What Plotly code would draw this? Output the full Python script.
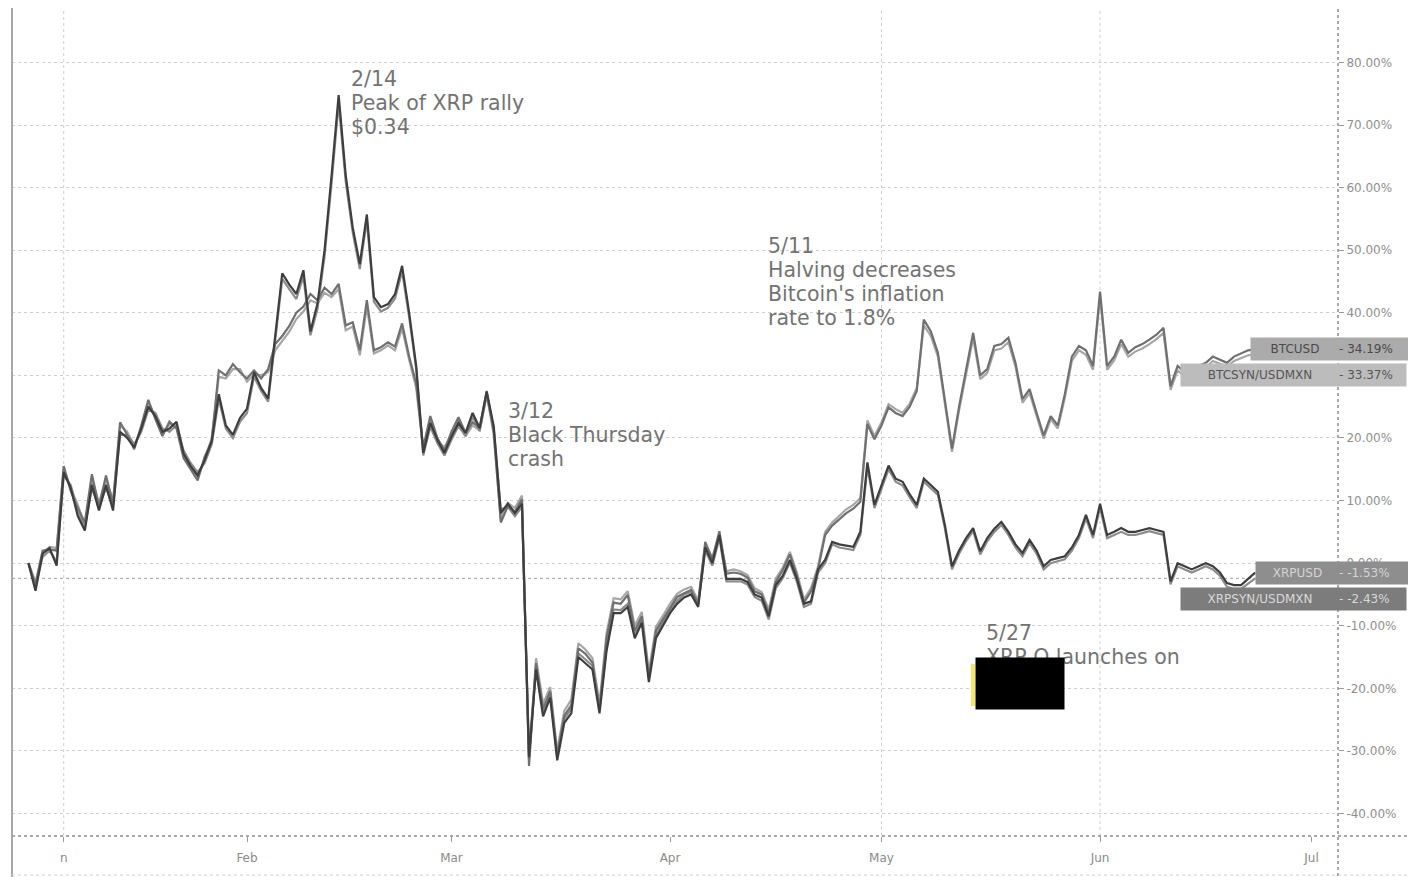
import plotly.graph_objects as go
import pandas as pd

START = "2020-01-01"
SERIES_NAMES = ["BTCUSD", "BTCSYN/USDMXN", "XRPUSD", "XRPSYN/USDMXN"]

BTCUSD = [
    0, -3.5, 2.0, 2.2, 2.0, 15.5, 11.5, 8.8, 6.5, 14.2,
    9.0, 14.0, 9.5, 22.5, 20.5, 18.2, 22.0, 26.1, 23.0, 20.3,
    22.6, 21.5, 16.8, 15.0, 13.2, 17.0, 19.5, 30.8, 30.0, 31.8,
    30.5, 29.5, 30.8, 29.5, 31.0, 35.0, 36.3, 37.9, 40.0, 41.0,
    43.0, 42.0, 44.0, 43.0, 44.6, 38.0, 38.5, 34.0, 42.0, 34.0,
    34.5, 35.3, 34.6, 38.3, 33.0, 28.7, 18.5, 23.5, 20.0, 18.0,
    21.0, 23.3, 20.8, 22.5, 21.6, 27.5, 21.0, 6.5, 9.1, 8.2,
    10.2, -32.4, -16.0, -23.3, -20.5, -30.7, -24.4, -22.7, -13.6, -14.5,
    -15.9, -23.3, -12.0, -6.3, -6.5, -5.1, -10.8, -8.5, -18.2, -10.8,
    -9.0, -7.0, -5.4, -4.8, -4.3, -6.5, 3.4, 0.6, 5.1, -1.7,
    -1.5, -1.7, -2.3, -4.5, -5.0, -8.0, -3.0, -1.1, 1.4, -2.0,
    -6.3, -4.5, -1.0, 4.5, 6.0, 7.0, 8.0, 8.7, 9.8, 22.2,
    19.8, 22.0, 24.9, 24.0, 23.5, 25.0, 27.5, 38.9, 37.0, 33.6,
    26.0, 18.3, 25.0, 31.0, 36.8, 30.0, 31.0, 34.7, 35.0, 36.0,
    32.0, 26.2, 27.8, 24.0, 20.4, 23.5, 22.0, 27.0, 33.0, 34.7,
    34.0, 31.5, 43.4, 31.5, 33.0, 35.7, 33.6, 34.5, 35.0, 35.7,
    36.5, 37.6, 28.3, 31.5, 30.5, 31.0, 31.5, 32.0, 33.0, 32.5,
    32.0, 33.0, 33.5, 34.0, 34.19,
]

BTCSYN_USDMXN = [
    0, -3.0, 1.6, 2.6, 2.4, 15.0, 12.0, 9.3, 6.0, 13.6,
    9.6, 13.4, 10.0, 22.0, 21.0, 18.8, 21.5, 25.6, 23.5, 20.8,
    22.2, 22.0, 17.4, 15.5, 13.8, 16.5, 20.0, 29.8, 29.5, 31.0,
    31.0, 29.0, 30.2, 30.0, 30.5, 34.0, 35.5, 37.0, 39.0, 40.2,
    42.0, 41.5, 43.2, 42.5, 43.8, 37.2, 37.8, 33.2, 41.0, 33.5,
    34.0, 34.8, 34.0, 37.5, 32.5, 28.0, 18.0, 23.0, 19.5, 18.5,
    20.5, 22.8, 20.3, 22.0, 21.2, 27.0, 20.5, 7.0, 9.6, 8.8,
    10.8, -31.5, -15.2, -22.5, -19.8, -30.0, -23.6, -21.8, -12.8, -13.8,
    -15.2, -22.4, -11.2, -5.6, -5.8, -4.5, -10.0, -7.8, -17.4, -10.2,
    -8.4, -6.5, -4.9, -4.2, -3.8, -6.0, 3.0, 0.9, 4.6, -1.3,
    -1.0, -1.3, -1.9, -4.0, -4.6, -7.4, -2.5, -0.7, 1.8, -1.5,
    -5.8, -4.0, -0.5, 5.0, 6.5, 7.6, 8.6, 9.3, 10.4, 22.8,
    20.3, 22.5, 25.4, 24.6, 24.0, 25.5, 28.0, 38.0, 36.3, 33.0,
    25.4, 17.8, 24.4, 30.3, 36.0, 29.4, 30.4, 34.0, 34.3, 35.3,
    31.4, 25.6, 27.2, 23.5, 19.9, 23.0, 21.5, 26.4, 32.3, 34.0,
    33.3, 30.9, 42.6, 30.9, 32.4, 35.0, 33.0, 33.8, 34.3, 35.0,
    35.8, 36.8, 27.7, 30.8, 29.8, 30.3, 30.8, 31.3, 32.3, 31.8,
    31.4, 32.3, 32.8, 33.2, 33.37,
]

XRPUSD = [
    0, -4.4, 1.5, 2.4, -0.4, 14.5, 12.0, 7.5, 5.2, 12.5,
    8.4, 12.5, 8.4, 21.0, 20.0, 18.5, 21.5, 25.0, 23.5, 21.0,
    21.5, 22.6, 17.5, 15.5, 14.0, 16.5, 19.5, 27.0, 22.0, 20.5,
    23.2, 24.7, 30.5, 28.0, 26.3, 36.0, 46.3, 44.5, 43.0, 46.8,
    37.0, 41.5, 50.0, 62.0, 74.8, 62.0, 53.6, 47.8, 55.7, 42.5,
    40.9, 41.4, 43.0, 47.5, 40.0, 31.5, 17.6, 22.4, 19.7, 17.6,
    20.2, 22.4, 20.8, 24.0, 21.6, 27.4, 21.9, 8.0, 9.5, 8.0,
    9.5, -31.0, -17.0, -24.5, -21.5, -31.5, -25.5, -24.0, -15.0, -16.0,
    -17.0, -24.0, -14.0, -8.0, -8.0, -7.0, -12.0, -9.5, -19.0, -12.0,
    -10.0, -8.0, -6.5, -5.5, -5.0, -7.0, 2.5, 0.0, 4.5, -2.5,
    -2.5, -2.5, -3.0, -5.0, -5.5, -8.5, -3.5, -2.0, 0.5, -2.5,
    -6.5, -6.1, -1.0, 0.5, 3.4, 3.0, 2.8, 2.6, 5.0, 16.1,
    9.3, 12.5, 15.6, 13.5, 13.0, 11.0, 9.3, 13.5, 12.5, 11.4,
    6.0, -0.5, 2.0, 4.0, 5.6, 1.9, 4.0, 5.5, 6.6, 5.0,
    3.0, 1.6, 3.7, 2.0, -0.5, 0.5, 0.8, 1.1, 2.5, 4.5,
    7.7, 4.5, 9.5, 4.5, 5.0, 5.6, 5.0, 5.0, 5.3, 5.6,
    5.3, 5.0, -2.9, 0.0, -0.5, -1.0, -0.5, 0.0, -0.5, -1.5,
    -3.2, -3.5, -3.5, -2.5, -1.53,
]

XRPSYN_USDMXN = [
    0, -3.8, 1.0, 2.0, 0.2, 14.0, 12.5, 8.0, 5.8, 12.0,
    9.0, 12.0, 9.0, 20.5, 20.5, 19.0, 21.0, 24.5, 24.0, 21.5,
    21.0, 22.0, 18.0, 16.0, 14.5, 16.0, 19.0, 26.2, 21.5, 20.0,
    22.6, 24.0, 29.8, 27.5, 25.8, 35.2, 45.4, 43.8, 42.2, 45.8,
    36.4, 40.6, 49.0, 60.8, 73.5, 61.0, 52.8, 47.0, 54.8, 41.8,
    40.2, 40.8, 42.3, 46.6, 39.3, 31.0, 17.2, 21.8, 19.2, 17.2,
    19.7, 21.9, 20.3, 23.4, 21.1, 26.8, 21.4, 8.6, 9.0, 7.5,
    9.0, -30.2, -16.4, -23.8, -20.8, -30.8, -24.9, -23.3, -14.4, -15.4,
    -16.4, -23.4, -13.4, -7.4, -7.5, -6.5, -11.5, -9.0, -18.4, -11.5,
    -9.5, -7.5, -6.0, -5.0, -4.6, -6.6, 2.0, -0.4, 4.0, -2.9,
    -2.9, -2.9, -3.4, -5.4, -6.0, -9.0, -4.0, -2.4, 0.1, -3.0,
    -7.0, -6.5, -1.5, 0.0, 3.0, 2.5, 2.3, 2.1, 4.5, 15.4,
    8.8, 12.0, 15.0, 13.0, 12.4, 10.5, 8.8, 13.0, 12.0, 10.9,
    5.5, -1.0, 1.5, 3.5, 5.1, 1.4, 3.5, 5.0, 6.1, 4.5,
    2.5, 1.1, 3.2, 1.5, -1.0, 0.0, 0.3, 0.6, 2.0, 4.0,
    7.1, 4.0, 8.9, 4.0, 4.5, 5.0, 4.5, 4.5, 4.8, 5.1,
    4.8, 4.5, -3.4, -0.5, -1.0, -1.5, -1.0, -0.5, -1.0, -2.0,
    -3.8, -4.1, -4.1, -3.2, -2.43,
]

MONTH_TICKS = ["2020-01-06", "2020-02-01", "2020-03-01", "2020-04-01",
               "2020-05-01", "2020-06-01", "2020-07-01"]
MONTH_LABELS = ["n", "Feb", "Mar", "Apr", "May", "Jun", "Jul"]
VGRID_DATES = ["2020-01-06", "2020-05-01", "2020-06-01"]
Y_TICKS = [-40, -30, -20, -10, 0, 10, 20, 30, 40, 50, 60, 70, 80]
HIDDEN_TICKS = [30]          # tick label fully covered by a last-value label
Y_LABELS = ["" if v in HIDDEN_TICKS else f"{v:.2f}%" for v in Y_TICKS]

# (lines, left x, centre y of first line) in reference pixels
EVENTS = [
    (["2/14", "Peak of XRP rally", "$0.34"], 349, 79),
    (["3/12", "Black Thursday", "crash"], 506, 411),
    (["5/11", "Halving decreases", "Bitcoin's inflation", "rate to 1.8%"], 766, 246),
    (["5/27", "XRP O launches on"], 984, 633),
]
LINE_STEP = 24

# page body adds an 8px offset, so the figure is 8px smaller
OFF = 8
W, H = 1416 - OFF, 877 - OFF
L, R, T, B = 12, 1338, 8, 836          # plot area in reference pixels
Y_RANGE = [-43.6, 88.7]
X_RANGE = ["2019-12-29 16:00", "2020-07-04 18:00"]


def px(x):
    return (x - L) / (R - L)


def py(y):
    return (B - y) / (B - T)


dates = pd.date_range(START, periods=len(BTCUSD), freq="D")
series = [BTCUSD, BTCSYN_USDMXN, XRPUSD, XRPSYN_USDMXN]
colors = ["#707070", "#a6a6a6", "#3e3e3e", "#8c8c8c"]
order = [1, 3, 0, 2]

fig = go.Figure()
for i in order:
    fig.add_trace(go.Scatter(x=dates, y=series[i], mode="lines", name=SERIES_NAMES[i],
                             line=dict(color=colors[i], width=2.2), showlegend=False))

grid_col = "#cfcfcf"
fig.update_layout(
    width=W, height=H,
    margin=dict(l=L - OFF, r=(W + OFF) - R, t=T - OFF, b=(H + OFF) - B),
    paper_bgcolor="white", plot_bgcolor="white",
    font=dict(family="DejaVu Sans", color="#8a8a8a", size=12),
    xaxis=dict(type="date", range=X_RANGE, tickvals=MONTH_TICKS, ticktext=MONTH_LABELS,
               showgrid=False, zeroline=False, showline=False, ticks="outside",
               ticklen=5, tickcolor="#9a9a9a", ticklabelstandoff=6,
               tickfont=dict(size=12, color="#8a8a8a"), automargin=False),
    yaxis=dict(range=Y_RANGE, side="right", tickvals=Y_TICKS, ticktext=Y_LABELS,
               showgrid=True, gridcolor=grid_col, griddash="dot",
               gridwidth=1, zeroline=False, showline=False, ticks="outside",
               ticklen=5, tickcolor="#9a9a9a", tickfont=dict(size=12, color="#8f8f8f"),
               automargin=False),
)

shapes = []
for d in VGRID_DATES:
    shapes.append(dict(type="line", xref="x", yref="paper", x0=d, x1=d, y0=0, y1=1,
                       line=dict(color=grid_col, width=1, dash="dot"), layer="below"))
# last-value price line
shapes.append(dict(type="line", xref="x", yref="y", x0=X_RANGE[0], x1=X_RANGE[1],
                   y0=XRPSYN_USDMXN[-1], y1=XRPSYN_USDMXN[-1],
                   line=dict(color="#a0a0a0", width=1, dash="dot"), layer="below"))
# pane borders
shapes.append(dict(type="line", xref="paper", yref="paper", x0=px(R), x1=px(R),
                   y0=py(900), y1=py(0), line=dict(color="#8a8a8a", width=1.5, dash="dot")))
shapes.append(dict(type="line", xref="paper", yref="paper", x0=px(L), x1=px(1420),
                   y0=py(B), y1=py(B), line=dict(color="#8a8a8a", width=1.5, dash="dot")))
shapes.append(dict(type="line", xref="paper", yref="paper", x0=px(L), x1=px(L),
                   y0=py(900), y1=py(0), line=dict(color="#a8a8a8", width=2)))
shapes.append(dict(type="line", xref="paper", yref="paper", x0=px(L), x1=px(1420),
                   y0=py(875), y1=py(875), line=dict(color="#d0d0d0", width=1, dash="dot")))
# redaction strip
shapes.append(dict(type="rect", xref="paper", yref="paper", x0=px(971), x1=px(975),
                   y0=py(706), y1=py(664), fillcolor="#f2e766", line=dict(width=0)))
fig.update_layout(shapes=shapes)

annotations = []
for lines, x0, y0 in EVENTS:
    for k, line in enumerate(lines):
        annotations.append(dict(text=line, xref="paper", yref="paper", x=px(x0),
                                y=py(y0 + k * LINE_STEP), xanchor="left", yanchor="middle",
                                showarrow=False,
                                font=dict(family="DejaVu Sans", size=20.5, color="#737373")))

annotations.append(dict(text="", xref="paper", yref="paper", x=px(975), y=py(657),
                        xanchor="left", yanchor="top", width=88, height=51,
                        bgcolor="#000000", borderpad=0, showarrow=False))

# last value labels
box_h = 22
step = 26 / (B - T) * (Y_RANGE[1] - Y_RANGE[0])
labels = [
    (SERIES_NAMES[0], BTCUSD[-1], BTCUSD[-1], 1250, 78, "#ababab", "#4a4a4a"),
    (SERIES_NAMES[1], BTCSYN_USDMXN[-1], BTCUSD[-1] - step, 1180, 67, "#bcbcbc", "#555555"),
    (SERIES_NAMES[2], XRPUSD[-1], XRPUSD[-1], 1255, 78, "#8e8e8e", "#d4d4d4"),
    (SERIES_NAMES[3], XRPSYN_USDMXN[-1], XRPUSD[-1] - step, 1180, 67, "#7c7c7c", "#d8d8d8"),
]
for name, val, ypos, xstart, vw, bg, fc in labels:
    annotations.append(dict(text=name, xref="paper", yref="y", x=px(xstart), y=ypos,
                            xanchor="left", yanchor="middle", width=R - xstart, height=box_h,
                            bgcolor=bg, borderpad=0, align="center", showarrow=False,
                            font=dict(family="DejaVu Sans", size=12, color=fc)))
    annotations.append(dict(text="- " + f"{val:.2f}%", xref="paper", yref="y", x=px(R), y=ypos,
                            xanchor="left", yanchor="middle", width=vw, height=box_h,
                            bgcolor=bg, borderpad=0, align="left", showarrow=False,
                            font=dict(family="DejaVu Sans", size=12, color=fc)))
fig.update_layout(annotations=annotations)

fig.write_html("out.html")
